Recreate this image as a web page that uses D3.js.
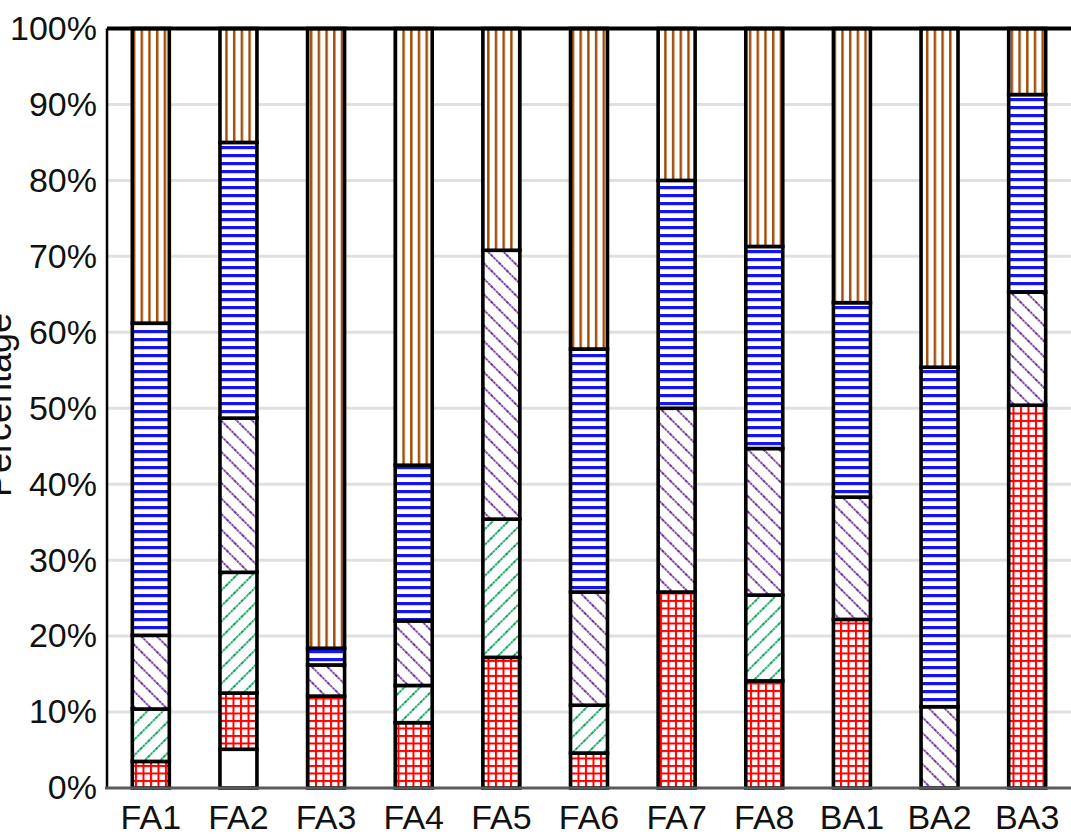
<!DOCTYPE html>
<html>
<head>
<meta charset="utf-8">
<script src="https://cdn.jsdelivr.net/npm/d3@7"></script>
<style>
  html, body { margin: 0; padding: 0; background: #fff; }
  svg { display: block; font-family: "Liberation Sans", Arial, sans-serif; }
</style>
</head>
<body>
<svg id="chart" width="1071" height="835"></svg>
<script>
// ---- data ----
const categories = ["FA1","FA2","FA3","FA4","FA5","FA6","FA7","FA8","BA1","BA2","BA3"];
const seriesNames = ["none","grid","fwd","back","horiz","vert"];
const noneVals  = [0, 5.1, 0, 0, 0, 0, 0, 0, 0, 0, 0];
const gridVals  = [3.5, 7.4, 12.1, 8.6, 17.2, 4.6, 25.8, 14.1, 22.2, 0, 50.4];
const fwdVals   = [6.9, 15.9, 0, 4.9, 18.2, 6.3, 0, 11.3, 0, 0, 0];
const backVals  = [9.7, 20.3, 4.1, 8.5, 35.4, 14.9, 24.2, 19.3, 16.1, 10.7, 14.9];
const horizVals = [41.1, 36.3, 2.2, 20.5, 0, 32.0, 30.0, 26.6, 25.6, 44.7, 26.0];
const vertVals  = [38.8, 15.0, 81.6, 57.5, 29.2, 42.2, 20.0, 28.7, 36.1, 44.6, 8.7];
const yTicks = [0,10,20,30,40,50,60,70,80,90,100];

const rows = categories.map((c, i) => ({
  cat: c, none: noneVals[i], grid: gridVals[i], fwd: fwdVals[i],
  back: backVals[i], horiz: horizVals[i], vert: vertVals[i]
}));

const svg = d3.select("#chart");
const pLeft = 107, pRight = 1071, pTop = 28.5, pBottom = 788;

const x = d3.scaleBand().domain(categories).range([pLeft, pRight])
  .paddingInner(0.578).paddingOuter(0.289);
const y = d3.scaleLinear().domain([0, 100]).range([pBottom, pTop]);

// ---- patterns ----
const defs = svg.append("defs");
function pat(id, w, h, transform) {
  const p = defs.append("pattern").attr("id", id)
    .attr("patternUnits", "userSpaceOnUse").attr("width", w).attr("height", h);
  if (transform) p.attr("patternTransform", transform);
  p.append("rect").attr("width", w).attr("height", h).attr("fill", "#fff");
  return p;
}
// brown vertical lines
pat("p-vert", 7.7, 10).append("rect").attr("x", 2).attr("y", 0)
  .attr("width", 2.4).attr("height", 10).attr("fill", "#a04800");
// blue horizontal lines
pat("p-horiz", 10, 8).append("rect").attr("x", 0).attr("y", 2)
  .attr("width", 10).attr("height", 3.2).attr("fill", "#1414f5");
// purple backward diagonal
pat("p-back", 11, 11, "rotate(-45)").append("line")
  .attr("x1", 2).attr("y1", 0).attr("x2", 2).attr("y2", 11)
  .attr("stroke", "#6a2aa0").attr("stroke-width", 1.9).attr("stroke-dasharray", "2.4 0.8");
// green forward diagonal
pat("p-fwd", 11, 11, "rotate(45)").append("line")
  .attr("x1", 2).attr("y1", 0).attr("x2", 2).attr("y2", 11)
  .attr("stroke", "#00a050").attr("stroke-width", 1.9).attr("stroke-dasharray", "2.4 0.8");
// red grid
const g = pat("p-grid", 7.5, 7.5);
g.append("rect").attr("x", 0).attr("y", 0).attr("width", 2).attr("height", 7.5).attr("fill", "#ff0000");
g.append("rect").attr("x", 0).attr("y", 0).attr("width", 7.5).attr("height", 2).attr("fill", "#ff0000");

const fills = { none: "#ffffff", grid: "url(#p-grid)", fwd: "url(#p-fwd)",
  back: "url(#p-back)", horiz: "url(#p-horiz)", vert: "url(#p-vert)" };

// ---- gridlines ----
svg.append("g").selectAll("line").data(yTicks.filter(t => t > 0 && t < 100)).join("line")
  .attr("x1", pLeft).attr("x2", pRight)
  .attr("y1", d => y(d)).attr("y2", d => y(d))
  .attr("stroke", "#e0e0e0").attr("stroke-width", 3);

// ---- bars ----
const stacked = d3.stack().keys(seriesNames)(rows);
const layers = svg.append("g").selectAll("g").data(stacked).join("g")
  .attr("fill", d => fills[d.key]);
layers.selectAll("rect").data(d => d.filter(s => s[1] - s[0] > 0)).join("rect")
  .attr("x", d => x(d.data.cat))
  .attr("width", x.bandwidth())
  .attr("y", d => y(d[1]))
  .attr("height", d => y(d[0]) - y(d[1]))
  .attr("stroke", "#000").attr("stroke-width", 3.6);

// ---- axes frame ----
svg.append("line").attr("x1", pLeft).attr("x2", pRight).attr("y1", pTop).attr("y2", pTop)
  .attr("stroke", "#000").attr("stroke-width", 4);
svg.append("line").attr("x1", pLeft).attr("x2", pLeft).attr("y1", pTop).attr("y2", pBottom)
  .attr("stroke", "#000").attr("stroke-width", 2.5);
svg.append("line").attr("x1", pLeft - 2).attr("x2", pRight).attr("y1", pBottom).attr("y2", pBottom)
  .attr("stroke", "#5a5a5a").attr("stroke-width", 3);

// y tick labels
const yAxis = d3.axisLeft(y).tickValues(yTicks).tickFormat(d => d + "%").tickSize(0).tickPadding(10);
const ya = svg.append("g").attr("transform", `translate(${pLeft},0)`).call(yAxis)
  .attr("font-size", 34).attr("font-family", "Liberation Sans, Arial, sans-serif");
ya.select(".domain").remove();
ya.selectAll("text").attr("fill", "#111");

// x labels
const xAxis = d3.axisBottom(x).tickSize(0).tickPadding(17);
const xa = svg.append("g").attr("transform", `translate(0,${pBottom})`).call(xAxis)
  .attr("font-size", 34).attr("font-family", "Liberation Sans, Arial, sans-serif");
xa.select(".domain").remove();
xa.selectAll("text").attr("fill", "#111");

// y axis title
svg.append("text").attr("transform", `translate(11,405) rotate(-90)`)
  .attr("text-anchor", "middle").attr("font-size", 36).attr("fill", "#111")
  .text("Percentage");
</script>
</body>
</html>
